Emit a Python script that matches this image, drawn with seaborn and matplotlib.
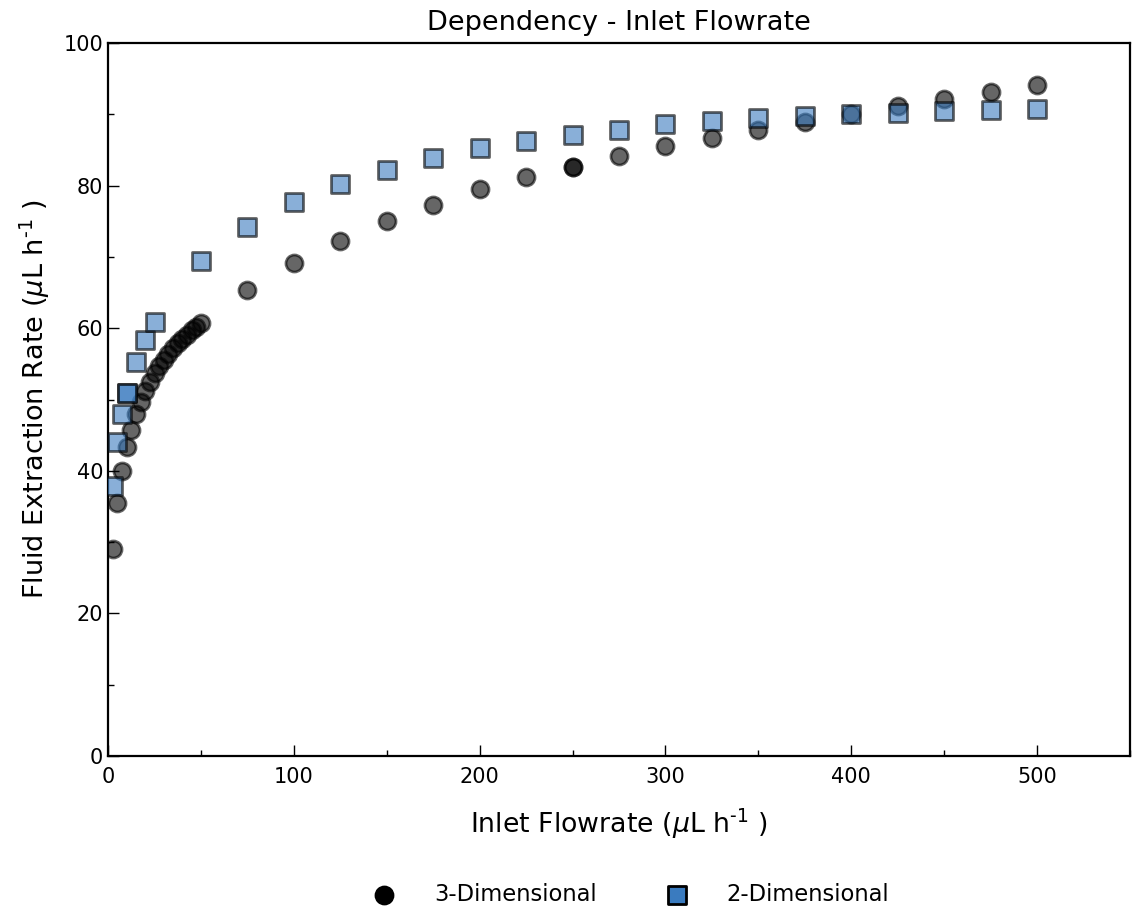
import numpy as np
import pandas as pd
import matplotlib
matplotlib.use("Agg")
import matplotlib.pyplot as plt
import seaborn as sns
from matplotlib.ticker import MultipleLocator

# ---- data ----
x3d = [2.5, 5, 7.5, 10, 12.5, 15, 17.5, 20, 22.5, 25, 27.5, 30, 32.5, 35, 37.5,
       40, 42.5, 45, 47.5, 50, 75, 100, 125, 150, 175, 200, 225, 250, 250, 275,
       300, 325, 350, 375, 400, 425, 450, 475, 500]
y3d = [29.0, 35.5, 40.0, 43.3, 45.7, 48.0, 49.7, 51.2, 52.5, 53.7, 54.7, 55.6,
       56.4, 57.2, 57.9, 58.5, 59.1, 59.7, 60.2, 60.7, 65.4, 69.1, 72.2, 75.0,
       77.3, 79.5, 81.2, 82.6, 82.6, 84.2, 85.5, 86.7, 87.8, 88.9, 90.0, 91.1,
       92.1, 93.1, 94.1]

x2d = [2.5, 5, 7.5, 10, 10, 15, 20, 25, 50, 75, 100, 125, 150, 175, 200, 225,
       250, 275, 300, 325, 350, 375, 400, 425, 450, 475, 500]
y2d = [37.9, 44.1, 47.9, 50.9, 50.9, 55.2, 58.3, 60.9, 69.4, 74.2, 77.7, 80.2,
       82.2, 83.9, 85.3, 86.3, 87.1, 87.8, 88.6, 89.1, 89.5, 89.8, 90.0, 90.2,
       90.5, 90.6, 90.7]

labels = ["3-Dimensional", "2-Dimensional"]
title = "Dependency - Inlet Flowrate"
xlabel = r"Inlet Flowrate ($\mu$L h$^{\text{-1}}$ )"
ylabel = r"Fluid Extraction Rate ($\mu$L h$^{\text{-1}}$ )"

sns.set_style("white")
plt.rcParams["font.family"] = ["DejaVu Sans"]
plt.rcParams["mathtext.fontset"] = "dejavusans"
plt.rcParams["text.color"] = "black"
plt.rcParams["axes.labelcolor"] = "black"
plt.rcParams["xtick.color"] = "black"
plt.rcParams["ytick.color"] = "black"

df3 = pd.DataFrame({"x": x3d, "y": y3d})
df2 = pd.DataFrame({"x": x2d, "y": y2d})

fig = plt.figure(figsize=(11.35, 9.09), dpi=100)
ax = fig.add_axes([0.0952, 0.1683, 0.9004, 0.7844])

sns.scatterplot(data=df3, x="x", y="y", ax=ax, marker="o", color="black",
                edgecolor="black", linewidth=2.0, s=150, alpha=0.6,
                label=labels[0], zorder=2)
sns.scatterplot(data=df2, x="x", y="y", ax=ax, marker="s", color="#3a7bbf",
                edgecolor="black", linewidth=2.0, s=150, alpha=0.6,
                label=labels[1], zorder=3)

ax.set_xlim(0, 550)
ax.set_ylim(0, 100)
ax.xaxis.set_major_locator(MultipleLocator(100))
ax.xaxis.set_minor_locator(MultipleLocator(50))
ax.yaxis.set_major_locator(MultipleLocator(20))
ax.yaxis.set_minor_locator(MultipleLocator(10))
ax.tick_params(which="both", direction="in", top=False, right=False,
               bottom=True, left=True, labelsize=15, colors="black")
ax.tick_params(which="major", length=8, width=1)
ax.tick_params(which="minor", length=4, width=1)
ax.tick_params(axis="x", which="major", pad=8)
for sp in ax.spines.values():
    sp.set_visible(True)
    sp.set_color("black")
    sp.set_linewidth(1.6)

ax.set_title(title, fontsize=19.5, pad=9, color="black")
ax.set_xlabel(xlabel, fontsize=19.3, labelpad=14)
ax.set_ylabel(ylabel, fontsize=19.5, labelpad=8)

handles, labs = ax.get_legend_handles_labels()
ax.get_legend().remove()
leg = fig.legend(handles, labs, loc="center", bbox_to_anchor=(0.551, 0.016),
                 ncol=2, frameon=False, fontsize=16.3, columnspacing=2.55,
                 handletextpad=1.2, scatterpoints=1, markerscale=1.0)
for h in leg.legend_handles:
    h.set_alpha(1)
    h.set_sizes([150])
for t in leg.get_texts():
    t.set_color("black")

fig.savefig("out.png", dpi=100)
